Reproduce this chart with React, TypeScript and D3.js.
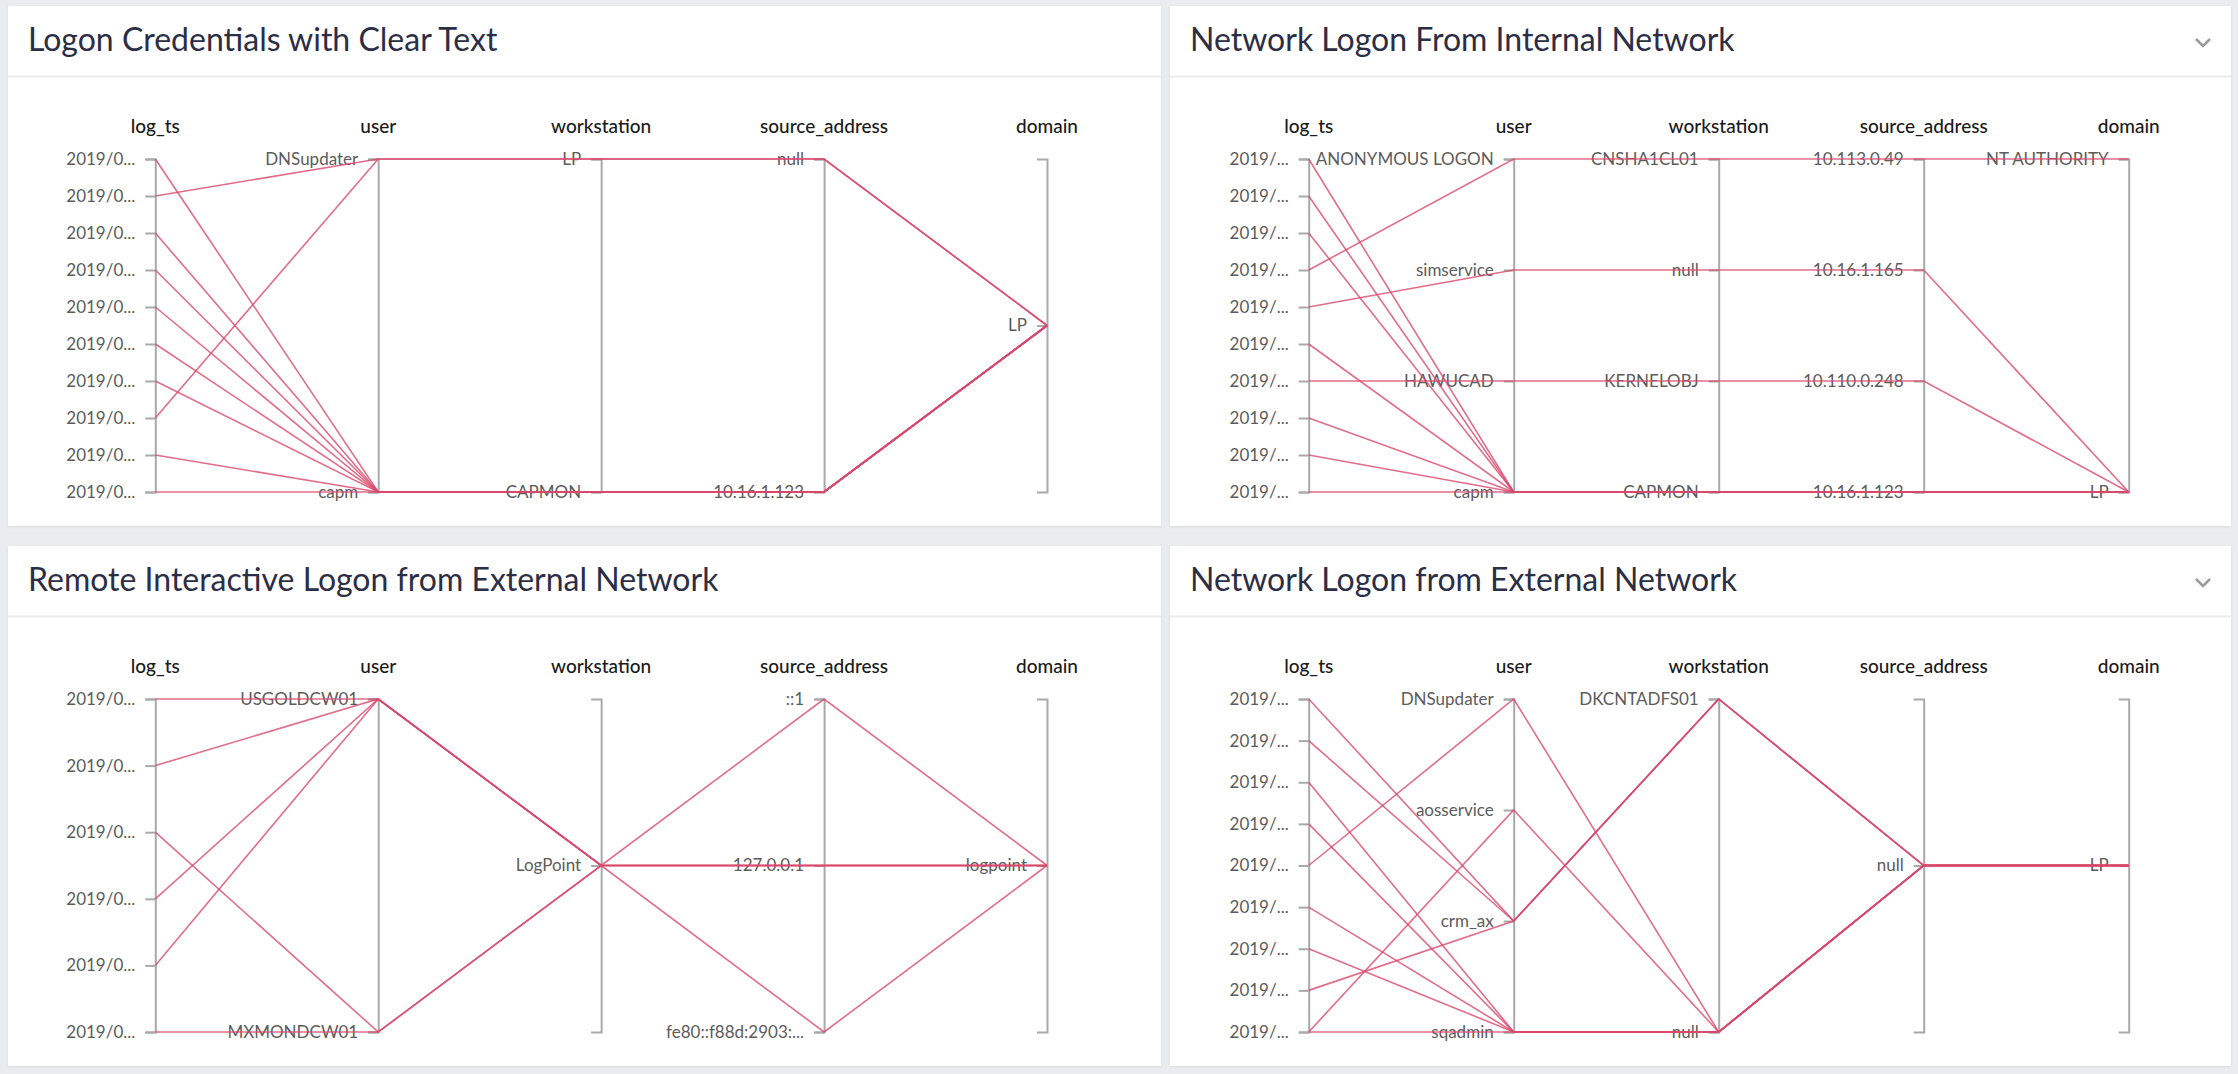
import React, { useEffect, useRef } from "react";
import * as d3 from "d3";

// ---------- data ----------
const DIMENSIONS = ["log_ts", "user", "workstation", "source_address", "domain"];

// Panel 1
const P1_TITLE = "Logon Credentials with Clear Text";
const P1_LOG_TS = ["2019/0...", "2019/0...", "2019/0...", "2019/0...", "2019/0...", "2019/0...", "2019/0...", "2019/0...", "2019/0...", "2019/0..."];
const P1_USER = ["DNSupdater", "capm"];
const P1_WORKSTATION = ["LP", "CAPMON"];
const P1_SOURCE = ["null", "10.16.1.123"];
const P1_DOMAIN = ["LP"];
const P1_ROWS = [
  [0, "capm", "CAPMON", "10.16.1.123", "LP"],
  [1, "DNSupdater", "LP", "null", "LP"],
  [2, "capm", "CAPMON", "10.16.1.123", "LP"],
  [3, "capm", "CAPMON", "10.16.1.123", "LP"],
  [4, "capm", "CAPMON", "10.16.1.123", "LP"],
  [5, "capm", "CAPMON", "10.16.1.123", "LP"],
  [6, "capm", "CAPMON", "10.16.1.123", "LP"],
  [7, "DNSupdater", "LP", "null", "LP"],
  [8, "capm", "CAPMON", "10.16.1.123", "LP"],
  [9, "capm", "CAPMON", "10.16.1.123", "LP"],
];

// Panel 2
const P2_TITLE = "Network Logon From Internal Network";
const P2_LOG_TS = ["2019/...", "2019/...", "2019/...", "2019/...", "2019/...", "2019/...", "2019/...", "2019/...", "2019/...", "2019/..."];
const P2_USER = ["ANONYMOUS LOGON", "simservice", "HAWUCAD", "capm"];
const P2_WORKSTATION = ["CNSHA1CL01", "null", "KERNELOBJ", "CAPMON"];
const P2_SOURCE = ["10.113.0.49", "10.16.1.165", "10.110.0.248", "10.16.1.123"];
const P2_DOMAIN = ["NT AUTHORITY", "LP"];
const P2_ROWS = [
  [0, "capm", "CAPMON", "10.16.1.123", "LP"],
  [1, "capm", "CAPMON", "10.16.1.123", "LP"],
  [2, "capm", "CAPMON", "10.16.1.123", "LP"],
  [3, "ANONYMOUS LOGON", "CNSHA1CL01", "10.113.0.49", "NT AUTHORITY"],
  [4, "simservice", "null", "10.16.1.165", "LP"],
  [5, "capm", "CAPMON", "10.16.1.123", "LP"],
  [6, "HAWUCAD", "KERNELOBJ", "10.110.0.248", "LP"],
  [7, "capm", "CAPMON", "10.16.1.123", "LP"],
  [8, "capm", "CAPMON", "10.16.1.123", "LP"],
  [9, "capm", "CAPMON", "10.16.1.123", "LP"],
];

// Panel 3
const P3_TITLE = "Remote Interactive Logon from External Network";
const P3_LOG_TS = ["2019/0...", "2019/0...", "2019/0...", "2019/0...", "2019/0...", "2019/0..."];
const P3_USER = ["USGOLDCW01", "MXMONDCW01"];
const P3_WORKSTATION = ["LogPoint"];
const P3_SOURCE = ["::1", "127.0.0.1", "fe80::f88d:2903:..."];
const P3_DOMAIN = ["logpoint"];
const P3_ROWS = [
  [0, "USGOLDCW01", "LogPoint", "127.0.0.1", "logpoint"],
  [1, "USGOLDCW01", "LogPoint", "::1", "logpoint"],
  [2, "MXMONDCW01", "LogPoint", "fe80::f88d:2903:...", "logpoint"],
  [3, "USGOLDCW01", "LogPoint", "127.0.0.1", "logpoint"],
  [4, "USGOLDCW01", "LogPoint", "127.0.0.1", "logpoint"],
  [5, "MXMONDCW01", "LogPoint", "127.0.0.1", "logpoint"],
];

// Panel 4
const P4_TITLE = "Network Logon from External Network";
const P4_LOG_TS = ["2019/...", "2019/...", "2019/...", "2019/...", "2019/...", "2019/...", "2019/...", "2019/...", "2019/..."];
const P4_USER = ["DNSupdater", "aosservice", "crm_ax", "sqadmin"];
const P4_WORKSTATION = ["DKCNTADFS01", "null"];
const P4_SOURCE = ["null"];
const P4_DOMAIN = ["LP"];
const P4_ROWS = [
  [0, "crm_ax", "DKCNTADFS01", "null", "LP"],
  [1, "crm_ax", "DKCNTADFS01", "null", "LP"],
  [2, "sqadmin", "null", "null", "LP"],
  [3, "sqadmin", "null", "null", "LP"],
  [4, "DNSupdater", "null", "null", "LP"],
  [5, "sqadmin", "null", "null", "LP"],
  [6, "sqadmin", "null", "null", "LP"],
  [7, "crm_ax", "DKCNTADFS01", "null", "LP"],
  [8, "sqadmin", "null", "null", "LP"],
  [8, "aosservice", "null", "null", "LP"],
];

// ---------- layout ----------
const W = 2238;
const H = 1074;
const FONT = "Lato, 'Open Sans', sans-serif";
const LINE_COLOR = "#d9486c";
const AXIS_COLOR = "#a9a9a9";

type PanelProps = {
  title: string;
  x: number;
  y: number;
  w: number;
  h: number;
  axisFrom: number;
  axisTo: number;
  chevron: boolean;
  logTs: string[];
  cats: string[][];
  rows: (string | number)[][];
};

function Panel(p: PanelProps) {
  const ref = useRef<SVGGElement>(null);
  const top = p.y + 153;
  const bottom = p.y + 486;

  useEffect(() => {
    const g = d3.select(ref.current);
    g.selectAll("*").remove();

    const xScale = d3.scalePoint<string>().domain(DIMENSIONS).range([p.axisFrom, p.axisTo]);
    const domains: string[][] = [p.logTs.map((_, i) => String(i)), ...p.cats];
    const yScales = domains.map((d) => d3.scalePoint<string>().domain(d).range([top, bottom]));

    DIMENSIONS.forEach((dim, i) => {
      const axis = d3
        .axisLeft(yScales[i])
        .tickSize(10)
        .tickPadding(10);
      if (i === 0) axis.tickFormat((d) => p.logTs[+d]);
      const ag = g
        .append("g")
        .attr("transform", `translate(${xScale(dim)},0)`)
        .call(axis);
      ag.select(".domain").attr("stroke", AXIS_COLOR).attr("stroke-width", 2);
      ag.selectAll(".tick line").attr("stroke", AXIS_COLOR).attr("stroke-width", 2);
      ag.selectAll(".tick text")
        .attr("fill", "#5c5c5c")
        .style("font-family", FONT)
        .style("font-size", "17px");
      ag.append("text")
        .attr("x", 0)
        .attr("y", top - 26)
        .attr("text-anchor", "middle")
        .attr("fill", "#1a1a1a")
        .style("font-family", FONT)
        .style("font-size", "19px")
        .style("font-weight", 500)
        .text(dim);
    });

    const line = d3.line<[number, number]>();
    g.append("g")
      .attr("fill", "none")
      .attr("stroke", LINE_COLOR)
      .attr("stroke-opacity", 0.8)
      .attr("stroke-width", 1.6)
      .selectAll("path")
      .data(p.rows)
      .join("path")
      .attr("d", (row) =>
        line(
          DIMENSIONS.map((dim, i) => [xScale(dim) as number, yScales[i](String(row[i])) as number])
        )
      );
  }, []);

  return (
    <g>
      <rect x={p.x} y={p.y} width={p.w} height={p.h} fill="#ffffff" filter="url(#shadow)" />
      <text x={p.x + 20} y={p.y + 45} fontFamily={FONT} fontSize={32} fill="#2b2e45">
        {p.title}
      </text>
      <line x1={p.x} x2={p.x + p.w} y1={p.y + 70.5} y2={p.y + 70.5} stroke="#ececef" strokeWidth={2} />
      {p.chevron && (
        <path
          d={`M${p.x + p.w - 35},${p.y + 33} L${p.x + p.w - 28},${p.y + 40} L${p.x + p.w - 21},${p.y + 33}`}
          fill="none"
          stroke="#9a9a9a"
          strokeWidth={2.5}
        />
      )}
      <g ref={ref} />
    </g>
  );
}

export default function App() {
  return (
    <div style={{ position: "fixed", left: 0, top: 0, width: W, height: H }}>
      <svg width={W} height={H} style={{ display: "block" }}>
        <defs>
          <filter id="shadow" x="-2%" y="-2%" width="104%" height="104%">
            <feDropShadow dx="0" dy="1" stdDeviation="1.5" floodColor="#000" floodOpacity="0.08" />
          </filter>
        </defs>
        <rect x={0} y={0} width={W} height={H} fill="#ebecef" />
        <Panel
          title={P1_TITLE}
          x={8} y={6} w={1153} h={520}
          axisFrom={155.3} axisTo={1047}
          chevron={false}
          logTs={P1_LOG_TS}
          cats={[P1_USER, P1_WORKSTATION, P1_SOURCE, P1_DOMAIN]}
          rows={P1_ROWS}
        />
        <Panel
          title={P2_TITLE}
          x={1170} y={6} w={1061} h={520}
          axisFrom={1308.7} axisTo={2128.7}
          chevron={true}
          logTs={P2_LOG_TS}
          cats={[P2_USER, P2_WORKSTATION, P2_SOURCE, P2_DOMAIN]}
          rows={P2_ROWS}
        />
        <Panel
          title={P3_TITLE}
          x={8} y={546} w={1153} h={520}
          axisFrom={155.3} axisTo={1047}
          chevron={false}
          logTs={P3_LOG_TS}
          cats={[P3_USER, P3_WORKSTATION, P3_SOURCE, P3_DOMAIN]}
          rows={P3_ROWS}
        />
        <Panel
          title={P4_TITLE}
          x={1170} y={546} w={1061} h={520}
          axisFrom={1308.7} axisTo={2128.7}
          chevron={true}
          logTs={P4_LOG_TS}
          cats={[P4_USER, P4_WORKSTATION, P4_SOURCE, P4_DOMAIN]}
          rows={P4_ROWS}
        />
      </svg>
    </div>
  );
}
